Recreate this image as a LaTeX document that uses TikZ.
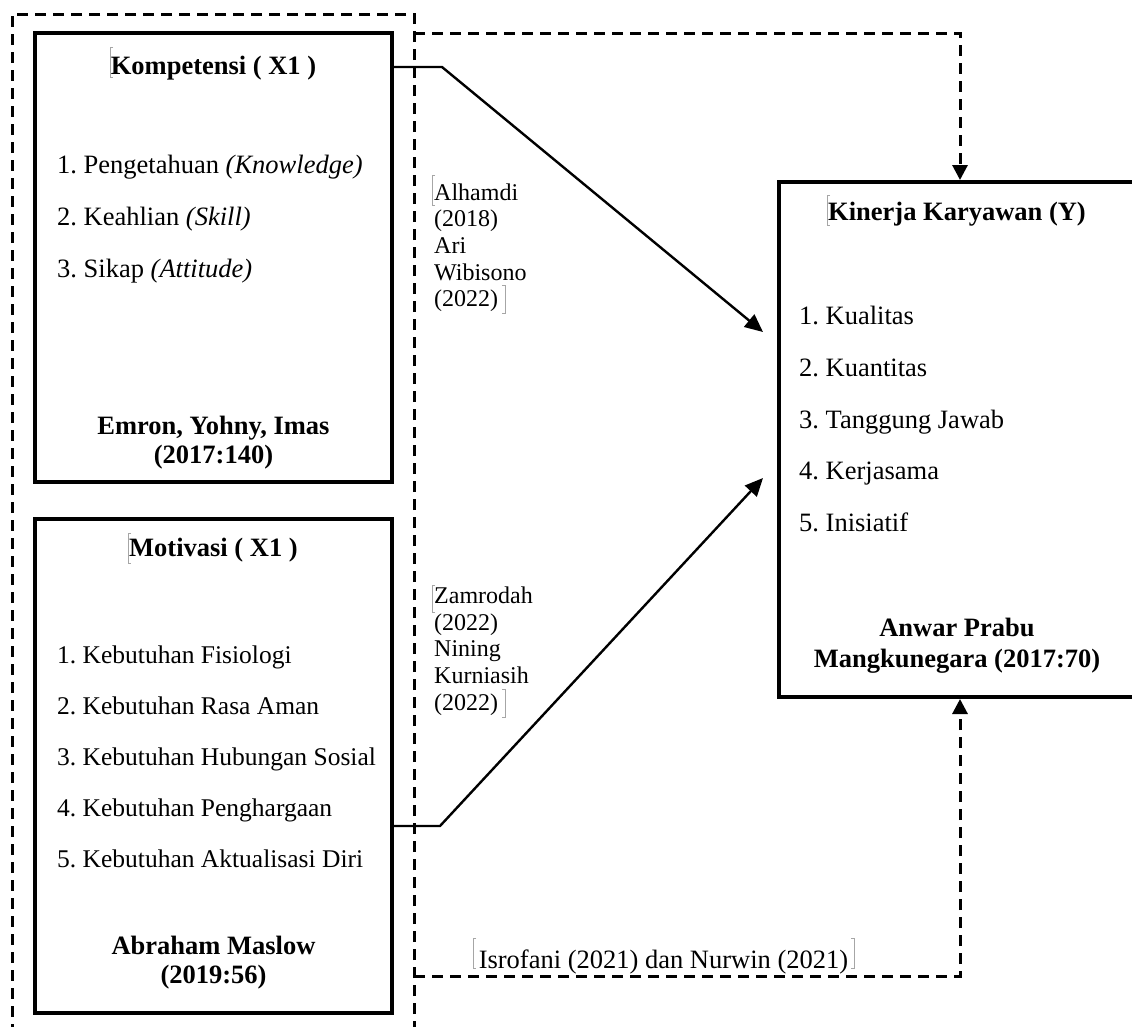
\documentclass[tikz,border=0pt]{standalone}
\usepackage{fontspec}
\setmainfont{Liberation Serif}
\usetikzlibrary{arrows.meta}
\frenchspacing
\begin{document}
\begin{tikzpicture}[x=1pt,y=-1pt,
  box/.style={draw, line width=4pt, inner sep=0pt, outer sep=0pt, anchor=north west},
  grp/.style={draw, line width=3pt, dash pattern=on 11pt off 7pt, inner sep=0pt, outer sep=0pt, anchor=north west},
  ttl/.style={anchor=base, inner sep=0pt, font=\bfseries\fontsize{26.5}{30}\selectfont},
  itm/.style={anchor=base west, inner sep=0pt, font=\fontsize{26.5}{30}\selectfont},
  itms/.style={anchor=base west, inner sep=0pt, font=\fontsize{25.5}{29}\selectfont},
  cit/.style={anchor=base west, inner sep=0pt, font=\fontsize{24}{27}\selectfont},
  conn/.style={line width=2.4pt, -{Triangle[length=18pt,width=16pt]}},
  darr/.style={line width=3pt, dash pattern=on 11pt off 7pt, -{Triangle[length=15pt,width=15pt]}, shorten >=2pt},
  brk/.style={draw=gray!70, line width=0.6pt}]
\useasboundingbox (0,0) rectangle (1132,1026);
\clip (0,0) rectangle (1132,1026);
\fill[white] (0,0) rectangle (1132,1026);

% group (dashed) and boxes
\node[grp, minimum width=402pt, minimum height=1030pt] (g) at (12,14) {};
\node[box, minimum width=357pt, minimum height=449pt] (k) at (35,33) {};
\node[box, minimum width=357pt, minimum height=494pt] (m) at (35,519) {};
\node[box, minimum width=357pt, minimum height=515pt] (y) at (779,182) {};

% Kompetensi
\node[ttl] (kt) at (213.5,74) {Kompetensi ( X1 )};
\node[itm] (k1) at (57,173) {1. Pengetahuan \textit{(Knowledge)}};
\node[itm] (k2) at (57,225) {2. Keahlian \textit{(Skill)}};
\node[itm] (k3) at (57,277) {3. Sikap \textit{(Attitude)}};
\node[ttl] (ks1) at (213.5,434) {Emron, Yohny, Imas};
\node[ttl] (ks2) at (213.5,463) {(2017:140)};

% Motivasi
\node[ttl] (mt) at (213.5,556) {Motivasi ( X1 )};
\node[itms] (m1) at (57,663) {1. Kebutuhan Fisiologi};
\node[itms] (m2) at (57,714) {2. Kebutuhan Rasa Aman};
\node[itms] (m3) at (57,765) {3. Kebutuhan Hubungan Sosial};
\node[itms] (m4) at (57,816) {4. Kebutuhan Penghargaan};
\node[itms] (m5) at (57,867) {5. Kebutuhan Aktualisasi Diri};
\node[ttl] (ms1) at (213.5,954) {Abraham Maslow};
\node[ttl] (ms2) at (213.5,983) {(2019:56)};

% Kinerja
\node[ttl] (yt) at (957,220) {Kinerja Karyawan (Y)};
\node[itm] (y1) at (799,324) {1. Kualitas};
\node[itm] (y2) at (799,376) {2. Kuantitas};
\node[itm] (y3) at (799,428) {3. Tanggung Jawab};
\node[itm] (y4) at (799,479) {4. Kerjasama};
\node[itm] (y5) at (799,531) {5. Inisiatif};
\node[ttl] (ys1) at (957,636) {Anwar Prabu};
\node[ttl] (ys2) at (957,667) {Mangkunegara (2017:70)};

% citations
\node[cit] (a1) at (434,200) {Alhamdi};
\node[cit] (a2) at (434,226.5) {(2018)};
\node[cit] (a3) at (434,253) {Ari};
\node[cit] (a4) at (434,280) {Wibisono};
\node[cit] (a5) at (434,306) {(2022)};
\node[cit] (z1) at (434,603) {Zamrodah};
\node[cit] (z2) at (434,630) {(2022)};
\node[cit] (z3) at (434,656) {Nining};
\node[cit] (z4) at (434,683) {Kurniasih};
\node[cit] (z5) at (434,710) {(2022)};
\node[anchor=base, inner sep=0pt, font=\fontsize{26.5}{30}\selectfont] (ib) at (663.5,968) {Isrofani (2021) dan Nurwin (2021)};

% solid connectors
\coordinate (b1) at (442,67);
\coordinate (e1) at (763,332);
\draw[conn] (k.east |- b1) -- (b1) -- (e1);
\coordinate (b2) at (440,826);
\coordinate (e2) at (763,478);
\draw[conn] (m.east |- b2) -- (b2) -- (e2);

% dashed connectors
\coordinate (t0) at (960,33);
\draw[darr] (g.east |- t0) -- (t0) -- (y.north -| t0);
\coordinate (t1) at (960,976);
\draw[darr] (g.east |- t1) -- (t1) -- (y.south -| t1);

% text-frame marks
\draw[brk] (113,47) -- (110,47) -- (110,77) -- (113,77);
\draw[brk] (131,533) -- (128,533) -- (128,563) -- (131,563);
\draw[brk] (830,195) -- (827,195) -- (827,225) -- (830,225);
\draw[brk] (435,175) -- (432,175) -- (432,205) -- (435,205);
\draw[brk] (502,285) -- (505,285) -- (505,313) -- (502,313);
\draw[brk] (435,585) -- (432,585) -- (432,612) -- (435,612);
\draw[brk] (502,689) -- (505,689) -- (505,717) -- (502,717);
\draw[brk] (476,938) -- (473,938) -- (473,968) -- (476,968);
\draw[brk] (851,938) -- (854,938) -- (854,968) -- (851,968);
\end{tikzpicture}
\end{document}
